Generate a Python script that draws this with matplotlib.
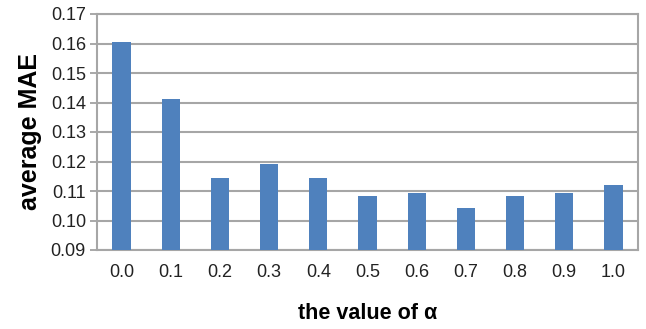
import matplotlib
matplotlib.use("Agg")
import matplotlib.pyplot as plt
import numpy as np

categories = ["0.0", "0.1", "0.2", "0.3", "0.4", "0.5", "0.6", "0.7", "0.8", "0.9", "1.0"]
mae = [0.1606, 0.1411, 0.1143, 0.1192, 0.1143, 0.1083, 0.1092, 0.1043, 0.1083, 0.1092, 0.1119]
yticks = [0.09, 0.10, 0.11, 0.12, 0.13, 0.14, 0.15, 0.16, 0.17]

plt.rcParams['font.family'] = ['Liberation Sans', 'DejaVu Sans']

fig = plt.figure(figsize=(6.46, 3.29), dpi=100)
ax = fig.add_axes([97/646, 1-250/329, (638-97)/646, (250-14)/329])

x = np.arange(len(categories))
ax.bar(x, mae, width=0.37, color="#4F81BD", zorder=3)
ax.set_xlim(-0.5, len(categories)-0.5)
ax.set_ylim(0.09, 0.17)
ax.set_yticks(yticks)
ax.set_yticklabels([f"{v:.2f}" for v in yticks], fontsize=13, color="#222222")
ax.set_xticks(x)
ax.set_xticklabels(categories, fontsize=13, color="#222222")
ax.tick_params(axis='x', length=0, pad=10)
ax.tick_params(axis='y', length=5, width=1.2, color="#999999", pad=3)
ax.grid(axis='y', color="#A6A6A6", linewidth=1.5, zorder=0)
for s in ax.spines.values():
    s.set_color("#A6A6A6")
    s.set_linewidth(1.5)

ax.set_ylabel("average MAE", fontsize=18, fontweight='bold', labelpad=6)
ax.set_xlabel("the value of α", fontsize=15.5, fontweight='bold', labelpad=16)

fig.savefig("out.png", dpi=100)
